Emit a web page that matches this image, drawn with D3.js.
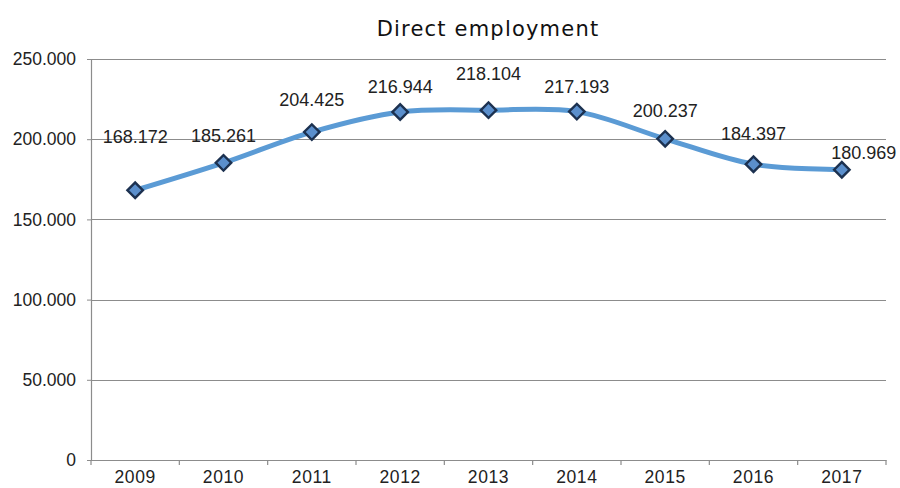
<!DOCTYPE html>
<html><head><meta charset="utf-8">
<script src="https://cdn.jsdelivr.net/npm/d3@7"></script>
<style>body{margin:0;background:#fff}svg{display:block}</style>
</head><body><svg id="c" width="900" height="488"></svg>
<script>
const years = ["2009","2010","2011","2012","2013","2014","2015","2016","2017"];
const employment = [168172,185261,204425,216944,218104,217193,200237,184397,180969];
const yTicks = [0,50000,100000,150000,200000,250000];
const title = "Direct employment";
// label placement offsets (layout only)
const labelOffsets = [[0,-54],[0,-27],[0,-32],[0,-25],[0,-36],[0,-25],[0,-28],[0,-31],[22,-17]];

const svg = d3.select("#c");
const m = {l:91, r:886, t:59, b:460};
const x = d3.scaleBand().domain(years).range([m.l, m.r]);
const y = d3.scaleLinear().domain([0,250000]).range([m.b, m.t]);
const fmtTick = v => v === 0 ? "0" : (v/1000).toFixed(0) + ".000";
const fmtLab = v => (Math.floor(v/1000)) + "." + String(v%1000).padStart(3,"0");
const FONT = "Arial, 'Liberation Sans', sans-serif";

svg.append("text").attr("x",488).attr("y",36).attr("text-anchor","middle")
  .attr("font-family","Verdana, 'DejaVu Sans', sans-serif").attr("font-size",21)
  .attr("letter-spacing",1.2).attr("fill","#111").text(title);

// gridlines
svg.append("g").selectAll("line").data(yTicks.filter(d=>d>0)).join("line")
  .attr("x1",m.l).attr("x2",m.r).attr("y1",d=>Math.round(y(d))+0.5).attr("y2",d=>Math.round(y(d))+0.5)
  .attr("stroke","#8c8c8c").attr("stroke-width",1.2);

// y axis
const ya = svg.append("g").attr("transform",`translate(${m.l},0)`)
  .call(d3.axisLeft(y).tickValues(yTicks).tickFormat(fmtTick).tickSize(4).tickPadding(11));
ya.select(".domain").attr("stroke","#8c8c8c").attr("stroke-width",1.2);
ya.selectAll(".tick line").attr("stroke","#8c8c8c");
ya.selectAll("text").attr("font-family",FONT).attr("font-size",17.5).attr("fill","#222");

// x axis
const xa = svg.append("g").attr("transform",`translate(0,${m.b})`)
  .call(d3.axisBottom(x).tickSize(0).tickPadding(0));
xa.select(".domain").attr("stroke","#8c8c8c").attr("stroke-width",1.2);
xa.selectAll("text").attr("dy",null).attr("y",23).attr("font-family",FONT).attr("font-size",17.5)
  .attr("letter-spacing",0.6).attr("fill","#222");
const bounds = years.map(d=>x(d)).concat([m.r]);
svg.append("g").selectAll("line").data(bounds).join("line")
  .attr("x1",d=>d).attr("x2",d=>d).attr("y1",m.b).attr("y2",m.b+5).attr("stroke","#8c8c8c").attr("stroke-width",1.2);

const cx = d => x(d) + x.bandwidth()/2;
const pts = years.map((d,i)=>({year:d, v:employment[i], off:labelOffsets[i]}));

svg.append("path").datum(pts)
  .attr("d", d3.line().x(p=>cx(p.year)).y(p=>y(p.v)).curve(d3.curveCatmullRom.alpha(0.5)))
  .attr("fill","none").attr("stroke","#5b9bd5").attr("stroke-width",5).attr("stroke-linejoin","round");

svg.append("g").selectAll("path").data(pts).join("path")
  .attr("d", d3.symbol(d3.symbolSquare, 120))
  .attr("transform",p=>`translate(${cx(p.year)},${y(p.v)}) rotate(45)`)
  .attr("fill","#5b8fcc").attr("stroke","#1c3150").attr("stroke-width",2.4);

svg.append("g").selectAll("text").data(pts).join("text")
  .attr("x",p=>cx(p.year)+p.off[0]).attr("y",p=>y(p.v)+p.off[1]).attr("dy","0.35em")
  .attr("text-anchor","middle").attr("font-family",FONT)
  .attr("font-size",18).attr("fill","#222").text(p=>fmtLab(p.v));
</script></body></html>
